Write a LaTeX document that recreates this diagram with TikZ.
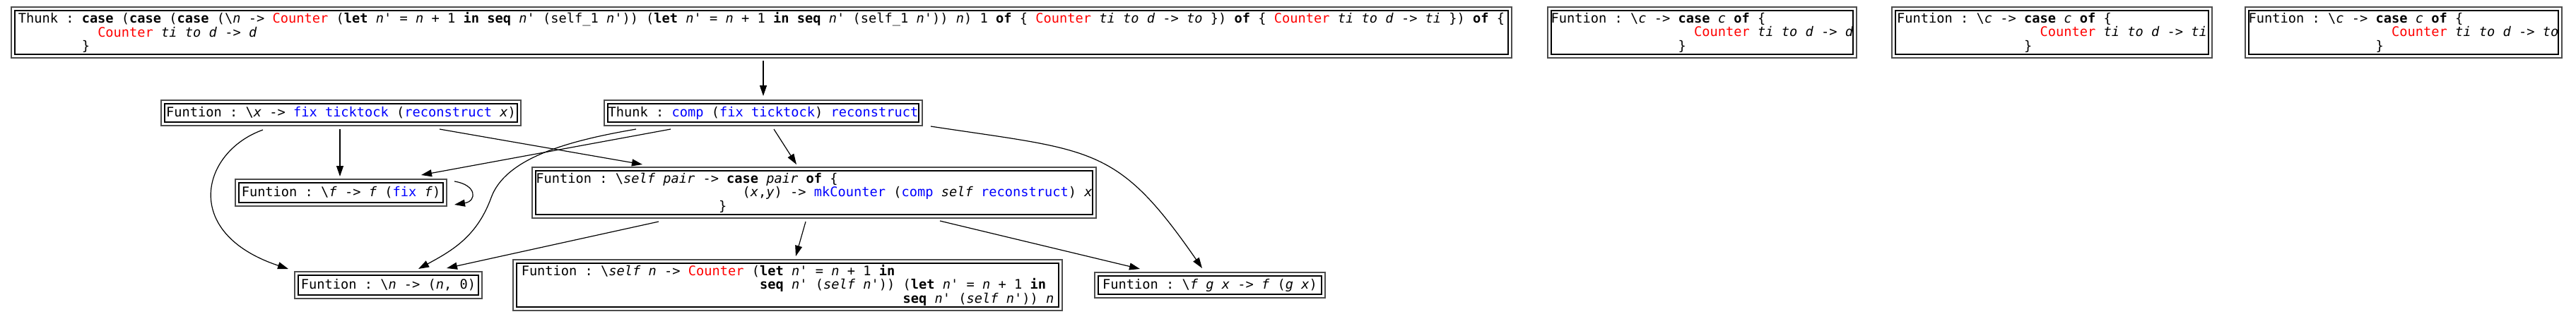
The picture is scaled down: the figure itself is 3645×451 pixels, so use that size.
\documentclass[tikz,border=0pt]{standalone}
\usepackage{fontspec}
\setmonofont{DejaVu Sans Mono}
\usetikzlibrary{arrows.meta,calc}
\newcommand\Kw[1]{\textbf{#1}}
\newcommand\Vv[1]{\textit{#1}}
\newcommand\Rd[1]{\textcolor{red}{#1}}
\newcommand\Bl[1]{\textcolor{blue}{#1}}
\newcommand\Ind[1]{\hspace*{#1\fontcharwd\font`M}}
\newcommand\Bs{\textbackslash}
\begin{document}
\begin{tikzpicture}[x=0.5pt,y=-0.5pt,
  gbox/.style={draw=black!70, line width=1.25pt, rectangle, inner sep=0pt, outer sep=0pt, align=left,
     font=\ttfamily\fontsize{9.34pt}{9.75pt}\selectfont\frenchspacing},
  sz/.style 2 args={minimum width=#1*0.5pt, minimum height=#2*0.5pt},
  innerb/.style={draw=black, line width=0.75pt},
  arr/.style={draw=black, line width=0.6pt, -{Triangle[length=7.5pt,width=5pt]}}]
\fill[white] (0,0) rectangle (3645,451);
\useasboundingbox (0,0) rectangle (3645,451);

\node[gbox, sz={2123}{72}] (top) at (1077.5,46) {Thunk : \Kw{case} (\Kw{case} (\Kw{case} (\Bs\Vv{n} -> \Rd{Counter} (\Kw{let} \Vv{n}' = \Vv{n} + 1 \Kw{in} \Kw{seq} \Vv{n}' (self\_1 \Vv{n}')) (\Kw{let} \Vv{n}' = \Vv{n} + 1 \Kw{in} \Kw{seq} \Vv{n}' (self\_1 \Vv{n}')) \Vv{n}) 1 \Kw{of} \{ \Rd{Counter} \Vv{ti} \Vv{to} \Vv{d} -> \Vv{to} \}) \Kw{of} \{ \Rd{Counter} \Vv{ti} \Vv{to} \Vv{d} -> \Vv{ti} \}) \Kw{of} \{\\
\Ind{10}\Rd{Counter} \Vv{ti} \Vv{to} \Vv{d} -> \Vv{d}\\
\Ind{8}\}};

\node[gbox, sz={437}{72}] (ca) at (2408.5,46) {Funtion : \Bs\Vv{c} -> \Kw{case} \Vv{c} \Kw{of} \{\\
\Ind{18}\Rd{Counter} \Vv{ti} \Vv{to} \Vv{d} -> \Vv{d}\\
\Ind{16}\}};
\node[gbox, sz={453}{72}] (cb) at (2903.5,46) {Funtion : \Bs\Vv{c} -> \Kw{case} \Vv{c} \Kw{of} \{\\
\Ind{18}\Rd{Counter} \Vv{ti} \Vv{to} \Vv{d} -> \Vv{ti}\\
\Ind{16}\}};
\node[gbox, sz={448}{72}] (cc) at (3401,46) {Funtion : \Bs\Vv{c} -> \Kw{case} \Vv{c} \Kw{of} \{\\
\Ind{18}\Rd{Counter} \Vv{ti} \Vv{to} \Vv{d} -> \Vv{to}\\
\Ind{16}\}};

\node[gbox, sz={450}{36}] (thunk) at (1080,160) {Thunk : \Bl{comp} (\Bl{fix ticktock}) \Bl{reconstruct}};
\node[gbox, sz={509}{36}] (xfix) at (482.5,160) {Funtion : \Bs\Vv{x} -> \Bl{fix ticktock} (\Bl{reconstruct} \Vv{x})};
\node[gbox, sz={299}{38}] (ffix) at (482.5,273) {Funtion : \Bs\Vv{f} -> \Vv{f} (\Bl{fix} \Vv{f})};
\node[gbox, sz={798}{72}] (selfpair) at (1152,273) {Funtion : \Bs\Vv{self pair} -> \Kw{case} \Vv{pair} \Kw{of} \{\\
\Ind{26}(\Vv{x},\Vv{y}) -> \Bl{mkCounter} (\Bl{comp} \Vv{self} \Bl{reconstruct}) \Vv{x}\\
\Ind{23}\}};
\node[gbox, sz={265}{38}] (n0) at (549.5,404) {Funtion : \Bs\Vv{n} -> (\Vv{n}, 0)};
\node[gbox, sz={777}{72}] (selfn) at (1114.5,404) {Funtion : \Bs\Vv{self n} -> \Rd{Counter} (\Kw{let} \Vv{n}' = \Vv{n} + 1 \Kw{in}\\
\Ind{30}\Kw{seq} \Vv{n}' (\Vv{self n}')) (\Kw{let} \Vv{n}' = \Vv{n} + 1 \Kw{in}\\
\Ind{48}\Kw{seq} \Vv{n}' (\Vv{self n}')) \Vv{n}};
\node[gbox, sz={326}{36}] (fgx) at (1712,404) {Funtion : \Bs\Vv{f g x} -> \Vv{f} (\Vv{g x})};

\foreach \n in {top,ca,cb,cc,thunk,xfix,ffix,selfpair,n0,selfn,fgx}
  \draw[innerb] ($(\n.south west)+(5,-5)$) rectangle ($(\n.north east)+(-5,5)$);

\coordinate (m1) at (695,280);

\draw[arr] ($(thunk.north |- top.south)+(0,4)$) -- ($(thunk.north)+(0,-6)$);
\draw[arr] ($(thunk.south)+(-131,5)$) -- ($(ffix.north)+(113.5,-6)$);
\draw[arr] ($(thunk.south)+(-180,5)$) .. controls +(-100,17) and +(20,-55) .. (m1)
   .. controls +(-20,55) and +(48,-26) .. ($(n0.north)+(42.5,-4)$);
\draw[arr] ($(xfix.south)+(-1.5,5)$) -- ($(ffix.north)+(-1.5,-4)$);
\draw[arr] ($(xfix.south)+(139.5,5)$) -- ($(selfpair.north)+(-243,-4)$);
\draw[arr] ($(thunk.south)+(15,5)$) -- ($(selfpair.north)+(-25,-4)$);
\draw[arr] ($(thunk.south east)+(12,1)$) .. controls +(230,35) and +(-121,-175) .. ($(fgx.north)+(-11,-6)$);
\draw[arr] ($(selfpair.south)+(-12,5)$) -- ($(selfn.north)+(11.5,-5)$);
\draw[arr] ($(selfpair.south)+(178,4)$) -- ($(fgx.north)+(-99,-5)$);
\draw[arr] ($(selfpair.south)+(-220,5)$) -- ($(n0.north)+(82.5,-5)$);
\draw[arr] ($(xfix.south)+(-110.5,6)$) .. controls +(-87,31) and +(-153,-51) .. ($(n0.north west)+(-9,-4)$);
\draw[arr] ($(ffix.east)+(11,-16)$) .. controls +(32,5) and +(32,-5) .. ($(ffix.east)+(11,17)$);
\end{tikzpicture}
\end{document}
